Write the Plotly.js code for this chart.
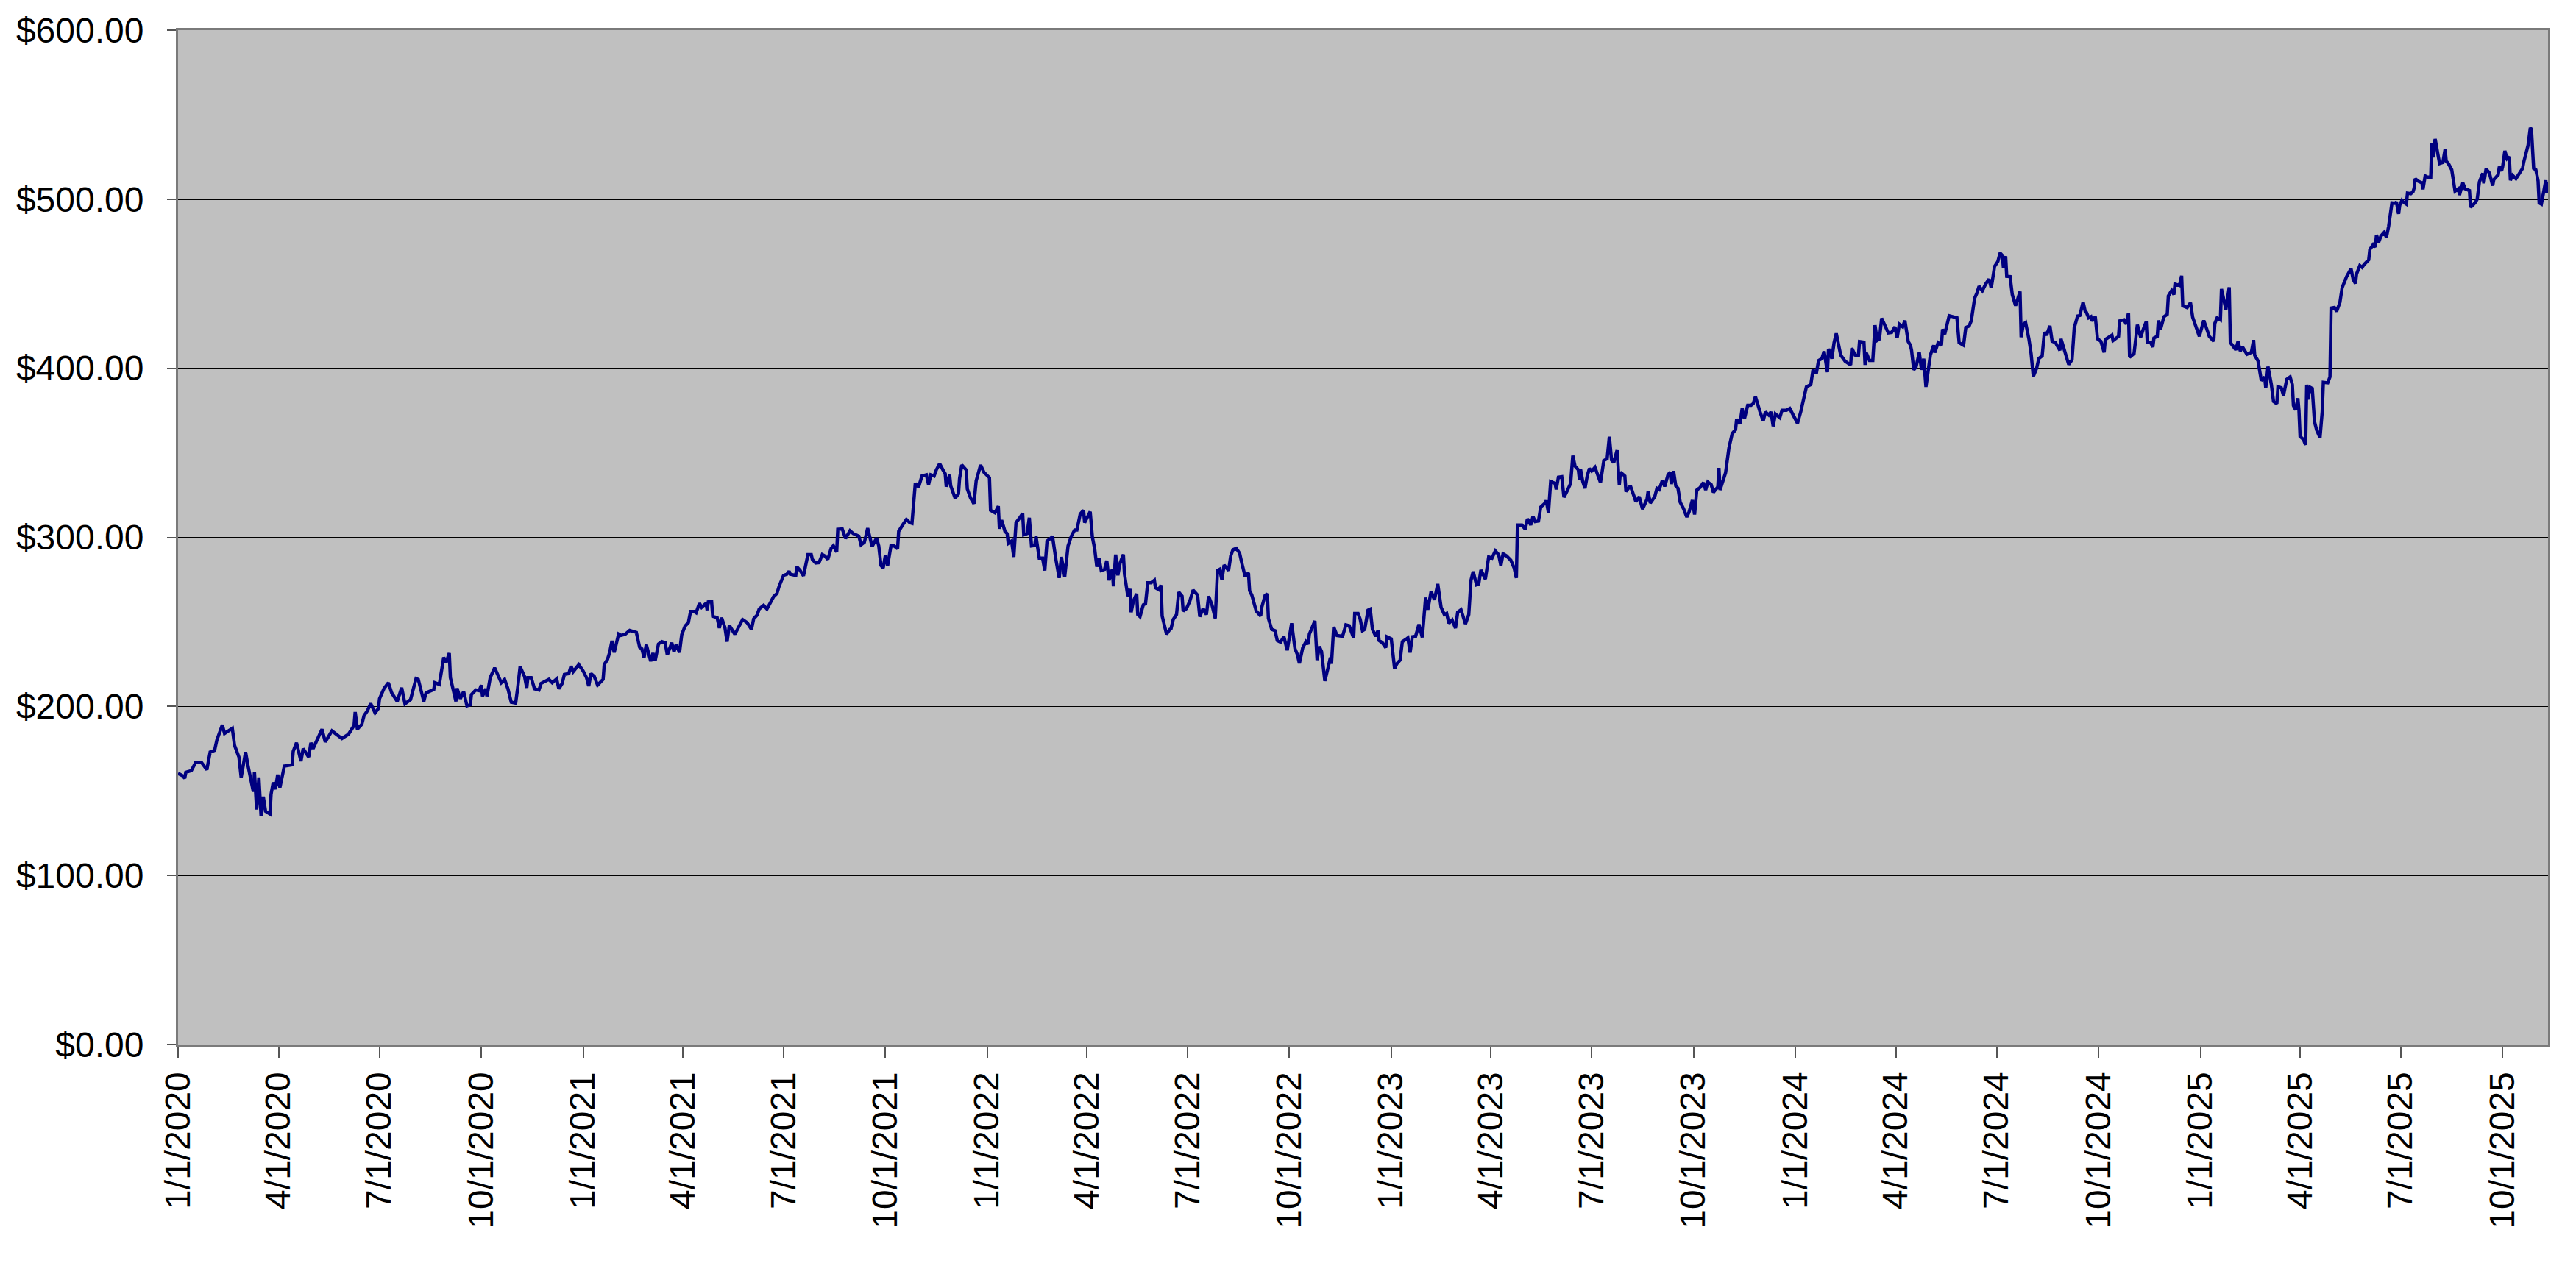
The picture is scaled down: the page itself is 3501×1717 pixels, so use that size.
<!DOCTYPE html>
<html>
<head>
<meta charset="utf-8">
<script src="https://cdn.plot.ly/plotly-3.0.1.min.js"></script>
<style>
    html, body { margin: 0; padding: 0; background: #ffffff; }
    #chart { width: 3501px; height: 1717px; }
</style>
</head>
<body>
<div id="chart"></div>
<script>
// closing prices, dates kept as spreadsheet serial numbers (1 = 1900-01-01)
var dates2020 = [
    43831,43835,43837,43838,43843,43847,43852,43857,43860,43864,
    43866,43868,43871,43873,43880,43882,43886,43888,43890,43892,
    43894,43897,43899,43900,43902,43904,43906,43908,43910,43914,
    43915,43917,43919,43921,43923,43927,43930,43934,43935,43938,
    43942,43944,43949,43951,43953,43959,43961,43964,43970,43979,
    43985,43990,43991,43993,43997,43999,44002,44005,44009,44012,
    44013,44017,44021,44024,44029,44033,44036,44041,44046,44048,
    44053,44055,44062,44063,44067,44071,44073,44076,44077,44082,
    44083,44086,44089,44092,44095,44096,44100,44103,44105,44106,
    44109,44110,44113,44117,44119,44123,44126,44129,44132,44136,
    44138,44140,44144,44146,44147,44150,44153,44157,44159,44163,
    44166,44169,44173,44175,44178,44180,44184,44186,44188,44193
];
var prices2020 = [
    160.4,159,157.5,161,162,167,167,162.5,173,174,
    180,184,189,184,187,177,170,158,167,173,
    165.5,157,149.5,161,139,158,135,146.6,138,136.4,
    148,155,151,159.6,152,164.7,165,165.4,173.4,178.5,
    167.6,175,170,178.5,175,184,186.5,179,185.5,181,
    183.6,188.7,196.7,186.5,189.4,194.5,197.4,201.7,196.2,198.8,
    204.6,210.5,214,208,203,211,201.5,204,216.5,216,
    203,208,210,214,213,229,225.7,231.5,217,203,
    210.7,204.6,208.7,200.3,201,207,209.7,209.3,212.6,206,
    210.4,206,217,222.8,220,214,216,210.4,202.5,202,
    212,223.5,217.7,211,217,217,210.4,209.7,213.6,215,
    216,214,216.3,210.4,213.6,218.9,219.4,223.8,220.6,224.7
];

var dates2021 = [
    44197,44200,44202,44204,44207,44210,44215,44216,44219,44221,
    44223,44225,44228,44229,44231,44235,44239,44245,44248,44250,
    44252,44254,44258,44260,44262,44265,44268,44271,44273,44277,
    44279,44281,44284,44286,44289,44292,44294,44297,44299,44302,
    44304,44308,44309,44310,44313,44314,44318,44320,44322,44325,
    44327,44329,44334,44337,44341,44345,44349,44351,44354,44356,
    44360,44363,44366,44369,44372,44374,44378,44381,44383,44384,
    44389,44390,44393,44396,44400,44403,44404,44407,44410,44413,
    44415,44418,44421,44423,44426,44427,44431,44434,44438,44441,
    44446,44448,44451,44454,44456,44458,44462,44464,44466,44468,
    44470,44472,44475,44478,44481,44482,44486,44489,44492,44494,
    44496,44497,44500,44503,44507,44509,44511,44514,44516,44519,
    44522,44524,44525,44528,44529,44533,44536,44537,44539,44543,
    44544,44547,44550,44552,44556,44559
];
var prices2021 = [
    220.9,217,212,219.4,217.7,212.6,216,224.7,227.9,232.2,
    238.8,231.9,239.5,242.8,242,242.7,245,243.8,235,234,
    229,236.6,226.7,231.5,227,236.9,238.3,237.7,230.5,237.7,
    232.2,236.6,231.9,242.4,247.5,249.6,256.2,256.2,255.4,261,
    258.6,261,256.9,261.8,262,253.3,252.5,246.4,252.5,246.7,
    238.3,247.9,242.7,246.4,251.4,249.6,245.6,251.8,254,257.6,
    259.8,257.6,261.5,264.9,266.8,271.1,277.5,278.2,280,278.2,
    277.5,282.6,280.4,277.2,289.8,289.8,287,284.8,285,289.8,
    289.1,287,293.5,295,291.3,304.8,305,299.3,303.9,302.2,
    300.7,295.6,297.1,305.4,300,294.6,299.6,294.9,283.3,281.9,
    289.4,283.3,294.9,294.9,293.2,303.6,307.7,310.6,308.7,308.3,
    324,331.9,329.8,336.3,337,331.2,337,336.3,339.9,343.6,
    339.9,337.7,330,337,330.5,323.2,325.7,334.8,342.8,339.9,
    328.6,323.2,319.9,333.4,342.8,338.5
];

var dates2022 = [
    44564,44565,44569,44572,44573,44575,44578,44580,44581,44584,
    44586,44588,44591,44594,44595,44598,44600,44602,44605,44606,
    44609,44612,44614,44616,44619,44621,44624,44627,44629,44632,
    44635,44638,44641,44643,44646,44649,44650,44652,44655,44657,
    44659,44661,44663,44665,44668,44670,44672,44675,44676,44678,
    44680,44682,44685,44686,44689,44691,44692,44694,44697,44698,
    44700,44703,44705,44707,44710,44713,44714,44717,44719,44720,
    44724,44727,44728,44730,44733,44735,44738,44739,44742,44745,
    44748,44752,44754,44757,44760,44762,44765,44768,44770,44772,
    44774,44776,44780,44782,44784,44787,44790,44792,44795,44798,
    44799,44801,44805,44809,44810,44813,44815,44816,44819,44822,
    44824,44827,44830,44833,44835,44837,44840,44842,44844,44847,
    44850,44852,44853,44856,44858,44860,44862,44864,44867,44870,
    44872,44873,44875,44878,44883,44886,44889,44893,44894,44897,
    44899,44901,44903,44906,44908,44910,44913,44915,44916,44919,
    44922,44923
];
var prices2022 = [
    335.3,316,314.5,318.4,305.1,310.2,303.6,302.2,296.4,297.8,
    288.4,308.7,311.2,314.1,301.5,302.2,311.6,294.9,295.2,300.7,
    287.7,287.7,280.4,297.8,299.3,300.4,287,276,288.4,276.8,
    294.9,300.7,304.4,304.4,313.8,316,308.7,311.6,315.2,300,
    293.5,282.6,287.7,280.4,281.1,286.2,274.6,281.1,271,289.8,
    277.5,284.8,289.8,278.2,265.2,269.5,255.7,262.3,266.6,254.3,
    253.1,260.1,260.8,273.1,273.1,274.6,270.2,269.1,271.7,253.5,
    242.7,245.6,245.9,251.4,254.3,267.6,265.2,256.4,257.9,262.3,
    268.8,265.9,253.1,257.9,254.3,265.2,260.1,252.1,280.4,281.1,
    274.9,283.6,280.4,289.1,292.7,293.5,290.6,284.8,276.8,279,
    268.5,265.9,256.4,253.5,258.6,265.6,266.6,252.1,245.6,244.8,
    239,238,241.2,233.2,240.5,249.2,234.2,231,225.5,234.6,
    238.3,236.8,242.7,247,250.6,227.4,235.4,232.5,215.1,223.1,
    228.9,225.2,247,241.9,241.5,248.2,247.7,240.5,255,255,
    251.4,244.8,245.6,256.9,257.5,245.6,241.5,244.8,239,237.6,
    234.7,241.2
];

var dates2023 = [
    44927,44930,44932,44935,44937,44941,44942,44944,44946,44949,
    44952,44955,44958,44960,44963,44966,44969,44972,44975,44977,
    44979,44982,44985,44987,44990,44994,44997,44999,45001,45004,
    45006,45008,45012,45015,45018,45021,45024,45026,45028,45031,
    45035,45038,45040,45041,45045,45048,45050,45053,45055,45057,
    45060,45062,45066,45067,45069,45071,45075,45076,45078,45081,
    45083,45086,45089,45091,45093,45096,45097,45098,45100,45102,
    45104,45106,45108,45111,45113,45116,45119,45122,45124,45126,
    45128,45131,45133,45134,45138,45139,45143,45147,45148,45151,
    45154,45158,45159,45161,45165,45167,45169,45172,45174,45177,
    45179,45180,45182,45184,45186,45188,45191,45194,45196,45199,
    45201,45203,45206,45209,45211,45213,45216,45218,45222,45223,
    45224,45229,45232,45235,45238,45239,45242,45244,45246,45249,
    45252,45254,45256,45260,45263,45265,45268,45270,45272,45274,
    45278,45280,45284,45287,45291
];
var prices2023 = [
    240,222.3,225.2,227.4,238.3,240,240.5,231.8,241.2,241.5,
    248.5,240.8,264.4,257.2,268.1,263,272.4,258.6,254.3,255,
    249.2,251.1,246.3,255.7,257.2,248.8,254.3,274.6,279.7,271.9,
    272.4,280.7,275.3,288.4,287.7,292,289.8,283.3,290.3,289.1,
    286.5,281.9,276,307.3,307.3,304.8,310.9,307.3,312.3,309.4,
    309.7,317.9,320.3,321.8,314.5,333,331.9,328.3,335.6,335.9,
    323.7,327.6,331.9,348.3,342.1,339.9,334.1,340.2,333,329,
    336.3,340.7,339.2,341.4,337.3,332.4,345.4,346.5,359.5,345.7,
    344.3,351.5,331.2,338.5,336.3,327.1,330.5,321.8,321.1,324,
    316.7,322.5,327.1,320.3,324,329,328.3,333.8,330.1,337,
    338.5,331.5,339.2,330.5,329,320.8,317,312,315,322,
    313.5,328,329.5,332.4,328,332.7,331.2,326.6,329.8,341.1,
    328,338.2,352.7,361.4,363.6,369.8,367.2,376.2,370.1,378.1,
    378.1,379.1,383.2,374.5,368.9,374.2,372.3,374.2,365.7,373,
    370.8,375.2,375.2,376.2,371.6
];

var dates2024 = [
    45294,45297,45300,45302,45306,45308,45311,45313,45316,45318,
    45321,45322,45325,45327,45329,45333,45337,45342,45343,45346,
    45349,45350,45354,45355,45356,45359,45362,45363,45364,45366,
    45368,45370,45373,45376,45379,45382,45384,45386,45389,45391,
    45394,45396,45397,45399,45401,45404,45406,45408,45410,45412,
    45414,45417,45418,45421,45424,45425,45427,45431,45435,45438,
    45440,45444,45446,45449,45451,45454,45456,45458,45461,45464,
    45467,45469,45472,45475,45477,45479,45480,45482,45483,45486,
    45488,45491,45495,45496,45498,45500,45503,45505,45507,45510,
    45512,45515,45517,45519,45522,45524,45527,45531,45532,45536,
    45539,45542,45544,45547,45549,45552,45554,45555,45557,45559,
    45560,45563,45565,45568,45571,45572,45575,45578,45579,45583,
    45584,45585,45589,45591,45593,45594,45598,45601,45604,45606,
    45609,45610,45613,45615,45616,45619,45620,45622,45625,45628,
    45629,45632,45634,45635,45639,45641,45642,45646,45649,45651,
    45654,45657
];
var prices2024 = [
    367.5,374.5,383.2,389,390.4,399.1,397,404.6,405.7,410,
    397.7,411.5,405.7,415.1,420.6,407.8,404.2,402,411.9,407.8,
    407.5,415.8,415.4,402,409.3,404.6,404.6,415.8,425.5,416.5,
    417.3,429.6,425.3,420.9,421.2,424.5,418,426,424.5,428.2,
    415.8,413.6,410.7,399.1,400.6,409.3,399.1,405.7,389,397.7,
    407.8,413.6,409.3,415.1,413.6,423.1,420.2,431.1,430.3,429.9,
    415.1,413.6,424.1,425,428.2,441.5,444.4,448.5,445.9,449.9,
    452.7,447.5,460.2,463.2,468.2,466.8,459.5,466.3,454.4,454.2,
    443.6,437,445.4,418.4,426.1,427.1,417.4,408.7,395.2,400,
    405.8,407.3,421.3,419.6,425.1,416,415.2,410.6,417.4,409.4,
    402.2,405.1,424,430.9,431.2,439.2,433.4,433,429.8,430.5,
    428,430.5,417.4,416,409.4,417,418.4,419.6,416.4,418.4,
    418.9,428,428.6,426.1,432.7,406.5,408.7,425.7,418.4,422.5,
    427.6,415.2,415.2,412.6,417.9,418.9,428.3,423.2,430.5,431.9,
    442.8,446,443.6,449.8,449,454.7,437,435.9,438.8,430.1,
    424,418.9
];

var dates2025 = [
    45661,45663,45666,45670,45671,45673,45676,45677,45681,45684,
    45685,45690,45692,45694,45696,45700,45704,45706,45707,45710,
    45712,45713,45716,45717,45719,45722,45724,45727,45728,45731,
    45733,45736,45739,45741,45742,45744,45746,45747,45748,45751,
    45753,45754,45755,45757,45759,45761,45763,45766,45768,45769,
    45773,45775,45776,45779,45781,45783,45784,45786,45789,45790,
    45794,45796,45798,45799,45802,45804,45806,45810,45811,45814,
    45816,45817,45819,45821,45824,45826,45828,45831,45834,45835,
    45837,45838,45840,45841,45844,45845,45848,45850,45851,45852,
    45855,45858,45859,45861,45863,45866,45867,45868,45870,45872,
    45874,45877,45879,45880,45882,45885,45887,45888,45891,45892,
    45895,45897,45901,45902,45906,45908,45910,45913,45914,45916,
    45919,45921,45922,45923,45927,45928,45930,45931,45933,45935,
    45937,45938,45940,45943,45947,45949,45950,45952,45954,45956,
    45957,45959,45961,45963,45964,45966,45968,45970,45971,45972
];
var prices2025 = [
    428.3,424,418.9,416,426.6,429.8,428.6,446.9,434.8,447.9,
    415.2,410.9,416,410.2,412.6,408.3,409.4,416.7,407.7,404.4,
    397.8,392.7,394.9,388.4,401,390.6,380.4,379,389.1,388.4,
    384,393.5,394.9,390.3,377.9,375.4,382.3,375,359.7,357.9,
    354.7,390.3,381.5,388.8,388.1,368.5,363.4,359,374.3,391.7,
    391.4,394.9,435.6,436,433.6,438.2,439,447.7,453.1,454.2,
    458.9,452.5,450.1,455.7,460.8,459.7,461.5,464.1,470.2,473.1,
    471.7,478.9,474.6,478.2,480.4,477.5,484,497.8,497.5,498.5,
    491.3,496.4,499.3,498.5,497.1,503.6,503.3,504.4,506.5,512.1,
    510.6,509.7,505.8,513.8,513.1,513.1,533.4,524.7,535.6,528.3,
    521.1,521.8,529.5,522.5,521.1,517.4,507.3,504.8,506.2,502.5,
    509.7,506.2,505.1,495.2,497.8,500,510.2,515.3,509.4,517.9,
    515.6,509.4,508,511.6,514.5,519.3,516.7,519.3,528.6,524,
    525.1,511.2,514.1,512.1,516,518.2,521.8,526.9,532,542.2,
    541.4,518.2,517.4,510.9,497.8,497.1,503.6,511.2,503.6,510.2
];

var xTickDates = [
    "2020-01-01","2020-04-01","2020-07-01","2020-10-01",
    "2021-01-01","2021-04-01","2021-07-01","2021-10-01",
    "2022-01-01","2022-04-01","2022-07-01","2022-10-01",
    "2023-01-01","2023-04-01","2023-07-01","2023-10-01",
    "2024-01-01","2024-04-01","2024-07-01","2024-10-01",
    "2025-01-01","2025-04-01","2025-07-01","2025-10-01"
];
var xTickLabels = [
    "1/1/2020","4/1/2020","7/1/2020","10/1/2020",
    "1/1/2021","4/1/2021","7/1/2021","10/1/2021",
    "1/1/2022","4/1/2022","7/1/2022","10/1/2022",
    "1/1/2023","4/1/2023","7/1/2023","10/1/2023",
    "1/1/2024","4/1/2024","7/1/2024","10/1/2024",
    "1/1/2025","4/1/2025","7/1/2025","10/1/2025"
];
var yTickValues = [0, 100, 200, 300, 400, 500, 600];
var yTickLabels = ["$0.00", "$100.00", "$200.00", "$300.00", "$400.00", "$500.00", "$600.00"];

function serialToIso(serial)
{
    return new Date(Date.UTC(1899, 11, 30) + serial * 86400000).toISOString().slice(0, 10);
}

var allSerials = [].concat(dates2020, dates2021, dates2022, dates2023, dates2024, dates2025);
var allPrices = [].concat(prices2020, prices2021, prices2022, prices2023, prices2024, prices2025);

var priceTrace =
{
    x: allSerials.map(serialToIso),
    y: allPrices,
    mode: "lines",
    type: "scatter",
    line: { color: "#000080", width: 4.5 },
    hoverinfo: "skip"
};

var fontFamily = "Arial, 'Liberation Sans', sans-serif";

var layout =
{
    width: 3501,
    height: 1717,
    margin: { l: 242, r: 38, t: 41, b: 297 },
    paper_bgcolor: "#ffffff",
    plot_bgcolor: "#c0c0c0",
    showlegend: false,
    font: { family: fontFamily, color: "#000000", size: 48 },
    xaxis:
    {
        type: "date",
        range: [serialToIso(allSerials[0]), serialToIso(allSerials[allSerials.length - 1])],
        tickmode: "array",
        tickvals: xTickDates,
        ticktext: xTickLabels,
        tickangle: -90,
        ticks: "outside",
        ticklen: 15,
        tickwidth: 2,
        tickcolor: "#555555",
        tickfont: { family: fontFamily, size: 48, color: "#000000" },
        showgrid: false,
        zeroline: false,
        showline: true,
        linecolor: "#7a7a7a",
        linewidth: 3,
        mirror: true
    },
    yaxis:
    {
        range: [0, 600],
        tickmode: "array",
        tickvals: yTickValues,
        ticktext: yTickLabels,
        ticks: "outside",
        ticklen: 12,
        tickwidth: 2,
        tickcolor: "#555555",
        ticklabelstandoff: 22,
        tickfont: { family: fontFamily, size: 48, color: "#000000" },
        showgrid: true,
        gridcolor: "#000000",
        gridwidth: 1.5,
        zeroline: false,
        showline: true,
        linecolor: "#7a7a7a",
        linewidth: 3,
        mirror: true
    }
};

var config = { displayModeBar: false, staticPlot: true };

Plotly.newPlot("chart", [priceTrace], layout, config);
</script>
</body>
</html>
